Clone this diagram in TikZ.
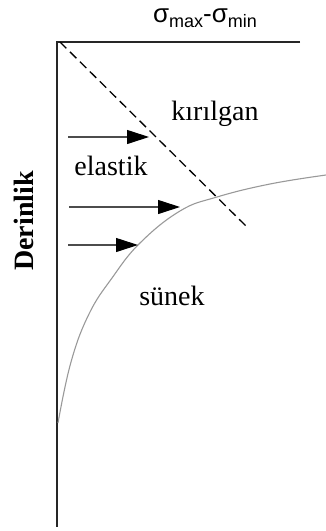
\documentclass[tikz,border=0pt]{standalone}
\usepackage{fontspec}
\setmainfont{Liberation Serif}
\setsansfont{Liberation Sans}
\usepackage{tikz}
\usetikzlibrary{arrows.meta}

\begin{document}
\begin{tikzpicture}[x=1pt,y=-1pt,
  axis/.style={line width=1.3pt,black!85},
  push/.style={-{Triangle[length=22pt,width=14pt,black]},line width=1.1pt,black!70},
  lbl/.style={font=\fontsize{28}{30}\selectfont,inner sep=0pt}]
\useasboundingbox (0,0) rectangle (326,531);
% eksenler
\coordinate (o) at (57,42);
\coordinate (xend) at (300,42);
\coordinate (yend) at (57,527);
\draw[axis](xend)--(o)--(yend);
\node[font=\sffamily\fontsize{26}{28}\selectfont,inner sep=0pt] (stress) at (205,18)
  {σ\raisebox{-0.35ex}{\fontsize{18}{19}\selectfont max}-σ\raisebox{-0.35ex}{\fontsize{18}{19}\selectfont min}};
\node[lbl,font=\bfseries\fontsize{28}{30}\selectfont,rotate=90] (depth) at (24,221) {Derinlik};
% kirilgan sinir
\coordinate (d1) at (60,42);
\coordinate (d2) at (248,228);
\draw[line width=1.3pt,dash pattern=on 9pt off 5pt](d1)--(d2);
% sunek egri
\draw[black!40,line width=1.1pt]plot[smooth,tension=0.7] coordinates
  {(58,423)(71,362)(89,314)(112,278)(140,243)(180,211)(217,197)(270,184)(326,175)};
% oklar
\coordinate (a1) at (68,137);
\coordinate (b1) at (149,137);
\coordinate (a2) at (69,207);
\coordinate (b2) at (180,207);
\coordinate (a3) at (68,245);
\coordinate (b3) at (138,245);
\draw[push](a1)--(b1);
\draw[push](a2)--(b2);
\draw[push](a3)--(b3);
% etiketler
\node[lbl] (brittle) at (215,114) {kırılgan};
\node[lbl] (elastic) at (111,166) {elastik};
\node[lbl] (ductile) at (172,296) {sünek};
\end{tikzpicture}
\end{document}
